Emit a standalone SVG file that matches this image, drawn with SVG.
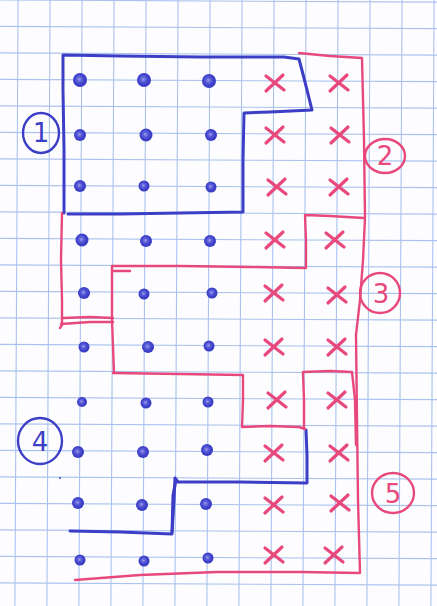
<svg xmlns="http://www.w3.org/2000/svg" width="437" height="606" viewBox="0 0 437 606">
<style>
.grid line{stroke:#aac2ee;stroke-width:1.1}
.blue{fill:none;stroke:#3c3ec6;stroke-width:3;stroke-linecap:round;stroke-linejoin:round}
.pink{fill:none;stroke:#e8497c;stroke-width:2.4;stroke-linecap:round;stroke-linejoin:round}
.dot{fill:url(#dg)}
.x{fill:none;stroke:#e8497c;stroke-width:3.2;stroke-linecap:round}
.lb{fill:none;stroke-width:2.4}
.num{font-family:"DejaVu Sans","Liberation Sans",sans-serif;font-size:26px;text-anchor:middle}
</style>
<defs>
<path id="cx" d="M-9,-7 L9,7 M8,-8 L-9,8"/>
<radialGradient id="dg" cx="0.45" cy="0.45" r="0.55">
<stop offset="0" stop-color="#9a9cec"/>
<stop offset="0.35" stop-color="#5a5dd8"/>
<stop offset="0.7" stop-color="#3d40c8"/>
<stop offset="1" stop-color="#3a3cc2"/>
</radialGradient>
</defs>
<rect width="437" height="606" fill="#fdfdff"/>
<g class="grid" id="grid" transform="rotate(0.3 218 300)">
<line x1="-15.5" y1="-30" x2="-15.5" y2="640"/>
<line x1="16.5" y1="-30" x2="16.5" y2="640"/>
<line x1="48.5" y1="-30" x2="48.5" y2="640"/>
<line x1="80.5" y1="-30" x2="80.5" y2="640"/>
<line x1="112.5" y1="-30" x2="112.5" y2="640"/>
<line x1="144.5" y1="-30" x2="144.5" y2="640"/>
<line x1="176.5" y1="-30" x2="176.5" y2="640"/>
<line x1="208.5" y1="-30" x2="208.5" y2="640"/>
<line x1="240.5" y1="-30" x2="240.5" y2="640"/>
<line x1="272.5" y1="-30" x2="272.5" y2="640"/>
<line x1="304.5" y1="-30" x2="304.5" y2="640"/>
<line x1="336.5" y1="-30" x2="336.5" y2="640"/>
<line x1="368.5" y1="-30" x2="368.5" y2="640"/>
<line x1="400.5" y1="-30" x2="400.5" y2="640"/>
<line x1="432.5" y1="-30" x2="432.5" y2="640"/>
<line x1="-30" y1="1" x2="470" y2="1"/>
<line x1="-30" y1="27.5" x2="470" y2="27.5"/>
<line x1="-30" y1="54" x2="470" y2="54"/>
<line x1="-30" y1="80.5" x2="470" y2="80.5"/>
<line x1="-30" y1="107" x2="470" y2="107"/>
<line x1="-30" y1="133.5" x2="470" y2="133.5"/>
<line x1="-30" y1="160" x2="470" y2="160"/>
<line x1="-30" y1="186.5" x2="470" y2="186.5"/>
<line x1="-30" y1="213" x2="470" y2="213"/>
<line x1="-30" y1="239.5" x2="470" y2="239.5"/>
<line x1="-30" y1="266" x2="470" y2="266"/>
<line x1="-30" y1="292.5" x2="470" y2="292.5"/>
<line x1="-30" y1="319" x2="470" y2="319"/>
<line x1="-30" y1="345.5" x2="470" y2="345.5"/>
<line x1="-30" y1="372" x2="470" y2="372"/>
<line x1="-30" y1="398.5" x2="470" y2="398.5"/>
<line x1="-30" y1="425" x2="470" y2="425"/>
<line x1="-30" y1="451.5" x2="470" y2="451.5"/>
<line x1="-30" y1="478" x2="470" y2="478"/>
<line x1="-30" y1="504.5" x2="470" y2="504.5"/>
<line x1="-30" y1="531" x2="470" y2="531"/>
<line x1="-30" y1="557.5" x2="470" y2="557.5"/>
<line x1="-30" y1="584" x2="470" y2="584"/>
<line x1="-30" y1="610.5" x2="470" y2="610.5"/>
</g>
<g id="outlines">
<path class="blue" d="M64,213 L64,150 L63,90 L63,55 L120,56 L200,57 L284,57 L299,59 L305,82 L312,110 L270,112 L244,113 L243,160 L243,212 L180,213 L120,214 L68,214"/>
<path class="blue" d="M70,531 L120,532 L172,534 L174,500 L175,478 L178,482 L240,482 L307,483 L307,455 L306,430"/>
<path class="blue" stroke-width="4.5" d="M172,532 L173,495 L176,480"/>
<path class="pink" d="M299,53 L330,56 L362,58 L364,140 L365,218 L363,260 L360,300 L356,335 L357,420 L358,500 L360,573 L300,572 L217,572 L140,575 L75,580"/>
<path class="pink" d="M364,218 L330,216 L305,215 L306,240 L306,268 L250,267 L180,266 L113,266"/>
<path class="pink" d="M62,213 L61,260 L62,300 L62,325 L60,328"/>
<path class="pink" d="M63,318 L90,317 L113,318 M61,324 L90,322 L113,322"/>
<path class="pink" stroke-width="3.6" d="M112,266 L112,320 L114,373"/>
<path class="pink" d="M114,271 L130,271"/>
<path class="pink" d="M113,373 L180,374 L243,375 L243,400 L242,427 L270,426 L299,427 L305,429"/>
<path class="pink" d="M303,373 L304,400 L304,427"/>
<path class="pink" d="M303,372 L330,371 L352,372 L355,400 L356,445"/>
</g>
<g id="dots">
<circle class="dot" cx="80" cy="80" r="7"/><circle class="dot" cx="144" cy="80" r="7"/><circle class="dot" cx="209" cy="81" r="7"/>
<circle class="dot" cx="80" cy="135" r="6"/><circle class="dot" cx="146" cy="135" r="6.5"/><circle class="dot" cx="211" cy="135" r="6"/>
<circle class="dot" cx="80" cy="186" r="6"/><circle class="dot" cx="144" cy="186" r="5.5"/><circle class="dot" cx="211" cy="187" r="5.5"/>
<circle class="dot" cx="82" cy="240" r="6.5"/><circle class="dot" cx="146" cy="241" r="6"/><circle class="dot" cx="210" cy="241" r="6"/>
<circle class="dot" cx="84" cy="293" r="6"/><circle class="dot" cx="144" cy="294" r="5.5"/><circle class="dot" cx="212" cy="293" r="5.5"/>
<circle class="dot" cx="84" cy="347" r="5.5"/><circle class="dot" cx="148" cy="347" r="6"/><circle class="dot" cx="209" cy="346" r="5.5"/>
<circle class="dot" cx="82" cy="402" r="5"/><circle class="dot" cx="146" cy="403" r="5.5"/><circle class="dot" cx="208" cy="402" r="5.5"/>
<circle class="dot" cx="78" cy="452" r="6"/><circle class="dot" cx="143" cy="452" r="6"/><circle class="dot" cx="207" cy="450" r="6"/>
<circle class="dot" cx="78" cy="503" r="6"/><circle class="dot" cx="142" cy="505" r="6"/><circle class="dot" cx="206" cy="504" r="6"/>
<circle class="dot" cx="80" cy="560" r="5.5"/><circle class="dot" cx="144" cy="561" r="5.5"/><circle class="dot" cx="208" cy="558" r="5.5"/>
<circle fill="#3d40c8" cx="60" cy="478" r="1"/>
</g>
<g id="crosses" class="x">
<use href="#cx" x="275" y="83"/><use href="#cx" x="339" y="83"/>
<use href="#cx" x="275" y="135"/><use href="#cx" x="340" y="135"/>
<use href="#cx" x="277" y="187"/><use href="#cx" x="339" y="187"/>
<use href="#cx" x="275" y="240"/><use href="#cx" x="335" y="240"/>
<use href="#cx" x="274" y="293"/><use href="#cx" x="337" y="295"/>
<use href="#cx" x="274" y="347"/><use href="#cx" x="337" y="347"/>
<use href="#cx" x="277" y="400"/><use href="#cx" x="337" y="400"/>
<use href="#cx" x="274" y="453"/><use href="#cx" x="339" y="453"/>
<use href="#cx" x="274" y="505"/><use href="#cx" x="340" y="503"/>
<use href="#cx" x="274" y="555"/><use href="#cx" x="334" y="555"/>
</g>
<g id="label1">
<ellipse class="lb" stroke="#3c3ec6" cx="41" cy="133" rx="18" ry="20"/>
<text class="num" x="41" y="142" fill="#3c3ec6" font-size="24">1</text>
</g>
<g id="label2">
<ellipse class="lb" stroke="#e8497c" cx="385" cy="156" rx="20" ry="17"/>
<text class="num" x="385" y="165" fill="#e8497c">2</text>
</g>
<g id="label3">
<ellipse class="lb" stroke="#e8497c" cx="380" cy="293" rx="20" ry="20"/>
<text class="num" x="381" y="303" fill="#e8497c">3</text>
</g>
<g id="label4">
<ellipse class="lb" stroke="#3c3ec6" cx="40" cy="441" rx="22" ry="23"/>
<text class="num" x="40" y="451" fill="#3c3ec6">4</text>
</g>
<g id="label5">
<ellipse class="lb" stroke="#e8497c" cx="393" cy="493" rx="21" ry="20"/>
<text class="num" x="393" y="503" fill="#e8497c">5</text>
</g>
</svg>
